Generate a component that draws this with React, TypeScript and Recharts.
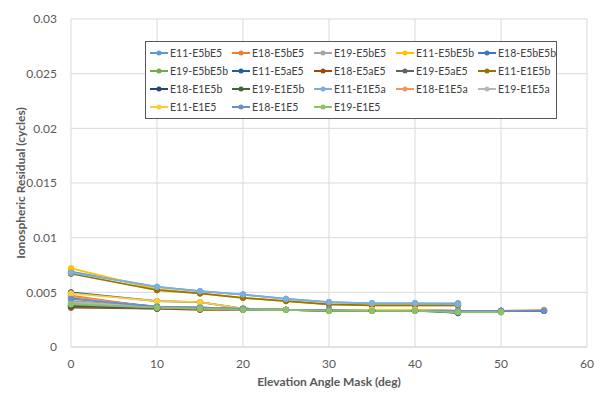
import React from 'react'
import { LineChart, Line, XAxis, YAxis, CartesianGrid, Legend, Label } from 'recharts'

// elevation mask angles (deg)
const masks = [0, 10, 15, 20, 25, 30, 35, 40, 45, 50, 55]

const yTicks = [0, 0.005, 0.01, 0.015, 0.02, 0.025, 0.03]
const xTicks = [0, 10, 20, 30, 40, 50, 60]

// residuals per series (cycles), missing points left off the end
const e11E5bE5 = [0.0069, 0.0055, 0.0051, 0.0048, 0.0044, 0.0041, 0.004, 0.004, 0.004]
const e18E5bE5 = [0.0047, 0.0036, 0.0035, 0.0035, 0.0034, 0.0034, 0.0034, 0.0034, 0.0033, 0.0033, 0.0033]
const e19E5bE5 = [0.004, 0.0037, 0.0036, 0.0035, 0.0034, 0.0034, 0.0034, 0.0034, 0.0033, 0.0032]
const e11E5bE5b = [0.0072, 0.0053, 0.0049, 0.0045, 0.0042, 0.0039, 0.0038, 0.0038, 0.0038]
const e18E5bE5b = [0.0045, 0.0037, 0.0036, 0.0035, 0.0034, 0.0034, 0.0033, 0.0033, 0.0033, 0.0033, 0.0033]
const e19E5bE5b = [0.0042, 0.0037, 0.0036, 0.0035, 0.0034, 0.0033, 0.0033, 0.0033, 0.0032, 0.0032]
const e11E5aE5 = [0.005, 0.0042, 0.0041, 0.0035, 0.0034, 0.0034, 0.0034, 0.0034, 0.0031]
const e18E5aE5 = [0.0036, 0.0035, 0.0034, 0.0034, 0.0034, 0.0034, 0.0033, 0.0033, 0.0033, 0.0033, 0.0033]
const e19E5aE5 = [0.0037, 0.0035, 0.0035, 0.0034, 0.0034, 0.0033, 0.0033, 0.0033, 0.0033, 0.0032]
const e11E1E5b = [0.0067, 0.0052, 0.0049, 0.0045, 0.0042, 0.0039, 0.0038, 0.0038, 0.0038]
const e18E1E5b = [0.0038, 0.0036, 0.0035, 0.0035, 0.0034, 0.0034, 0.0033, 0.0033, 0.0033, 0.0033, 0.0033]
const e19E1E5b = [0.0038, 0.0036, 0.0035, 0.0035, 0.0034, 0.0033, 0.0033, 0.0033, 0.0032, 0.0032]
const e11E1E5a = [0.0068, 0.0055, 0.0051, 0.0048, 0.0044, 0.0041, 0.004, 0.004, 0.0039]
const e18E1E5a = [0.0046, 0.0036, 0.0035, 0.0035, 0.0034, 0.0034, 0.0034, 0.0034, 0.0033, 0.0033, 0.0034]
const e19E1E5a = [0.0041, 0.0037, 0.0036, 0.0035, 0.0034, 0.0034, 0.0034, 0.0034, 0.0033, 0.0032]
const e11E1E5 = [0.0049, 0.0042, 0.0041, 0.0035, 0.0034, 0.0034, 0.0034, 0.0034, 0.0032]
const e18E1E5 = [0.0044, 0.0037, 0.0036, 0.0035, 0.0034, 0.0034, 0.0033, 0.0033, 0.0033, 0.0033, 0.0033]
const e19E1E5 = [0.0039, 0.0036, 0.0035, 0.0034, 0.0034, 0.0033, 0.0033, 0.0033, 0.0032, 0.0032]

const series = [
  { name: 'E11-E5bE5', values: e11E5bE5, color: '#5B9BD5' },
  { name: 'E18-E5bE5', values: e18E5bE5, color: '#ED7D31' },
  { name: 'E19-E5bE5', values: e19E5bE5, color: '#A5A5A5' },
  { name: 'E11-E5bE5b', values: e11E5bE5b, color: '#FFC000' },
  { name: 'E18-E5bE5b', values: e18E5bE5b, color: '#4472C4' },
  { name: 'E19-E5bE5b', values: e19E5bE5b, color: '#70AD47' },
  { name: 'E11-E5aE5', values: e11E5aE5, color: '#255E91' },
  { name: 'E18-E5aE5', values: e18E5aE5, color: '#9E480E' },
  { name: 'E19-E5aE5', values: e19E5aE5, color: '#636363' },
  { name: 'E11-E1E5b', values: e11E1E5b, color: '#997300' },
  { name: 'E18-E1E5b', values: e18E1E5b, color: '#264478' },
  { name: 'E19-E1E5b', values: e19E1E5b, color: '#43682B' },
  { name: 'E11-E1E5a', values: e11E1E5a, color: '#7CAFDD' },
  { name: 'E18-E1E5a', values: e18E1E5a, color: '#F1975A' },
  { name: 'E19-E1E5a', values: e19E1E5a, color: '#B7B7B7' },
  { name: 'E11-E1E5', values: e11E1E5, color: '#FFCD33' },
  { name: 'E18-E1E5', values: e18E1E5, color: '#698ED0' },
  { name: 'E19-E1E5', values: e19E1E5, color: '#8CC168' },
]

const FONT = 'Lato, "Open Sans", sans-serif'

const data = masks.map((m, i) => {
  const row: Record<string, number | null> = { mask: m }
  series.forEach((s) => {
    row[s.name] = i < s.values.length ? s.values[i] : null
  })
  return row
})

const LegendBox = () => (
  <div
    style={{
      border: '1px solid #595959',
      background: '#fff',
      padding: '2px 0 2px 4px',
      display: 'grid',
      gridTemplateColumns: 'repeat(5, 82px)',
      width: 412,
      boxSizing: 'border-box',
      fontFamily: FONT,
      fontSize: 10.5,
      lineHeight: '18px',
      color: '#404040',
      whiteSpace: 'nowrap',
    }}
  >
    {series.map((s) => (
      <div key={s.name} style={{ display: 'flex', alignItems: 'center', height: 18 }}>
        <svg width={18} height={8} style={{ marginRight: 2, flexShrink: 0 }}>
          <line x1={0} y1={4} x2={18} y2={4} stroke={s.color} strokeWidth={2} />
          <circle cx={9} cy={4} r={2.5} fill={s.color} />
        </svg>
        <span>{s.name}</span>
      </div>
    ))}
  </div>
)

export default function App() {
  return (
    <div style={{ position: 'absolute', left: 0, top: 0, width: 600, height: 399, background: '#fff' }}>
      <LineChart width={600} height={399} data={data} margin={{ top: 19, right: 13, bottom: 22, left: 31 }}>
        <CartesianGrid stroke="#d9d9d9" vertical={true} />
        <XAxis
          dataKey="mask"
          type="number"
          domain={[0, 60]}
          ticks={xTicks}
          height={30}
          stroke="#d9d9d9"
          tickLine={false}
          tick={{ fill: '#595959', fontSize: 12, fontFamily: FONT }}
          tickMargin={6}
        >
          <Label
            value="Elevation Angle Mask (deg)"
            position="bottom"
            offset={0}
            style={{ fill: '#595959', fontSize: 12, fontWeight: 'bold', fontFamily: FONT }}
          />
        </XAxis>
        <YAxis
          type="number"
          domain={[0, 0.03]}
          ticks={yTicks}
          width={40}
          axisLine={false}
          tickLine={false}
          tick={{ fill: '#595959', fontSize: 12, fontFamily: FONT }}
          tickMargin={8}
        >
          <Label
            value="Ionospheric Residual (cycles)"
            angle={-90}
            position="insideLeft"
            offset={-10}
            style={{ fill: '#595959', fontSize: 12, fontWeight: 'bold', fontFamily: FONT, textAnchor: 'middle' }}
          />
        </YAxis>
        <Legend
          layout="vertical"
          verticalAlign="middle"
          align="center"
          content={<LegendBox />}
          wrapperStyle={{ position: 'absolute', left: 145, top: 41, width: 'auto' }}
        />
        {series.map((s) => (
          <Line
            key={s.name}
            dataKey={s.name}
            stroke={s.color}
            strokeWidth={1.75}
            dot={{ r: 2.75, fill: s.color, stroke: s.color, strokeWidth: 1 }}
            isAnimationActive={false}
          />
        ))}
      </LineChart>
    </div>
  )
}
